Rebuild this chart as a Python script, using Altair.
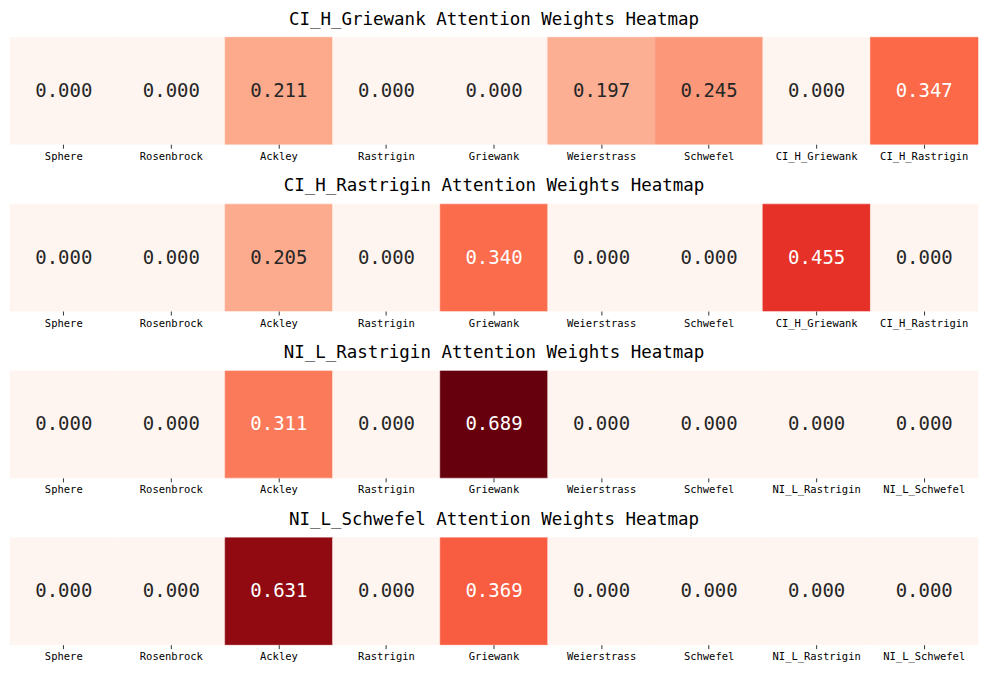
import altair as alt
import pandas as pd

base_cols = ["Sphere", "Rosenbrock", "Ackley", "Rastrigin", "Griewank", "Weierstrass", "Schwefel"]

titles = [
    "CI_H_Griewank Attention Weights Heatmap",
    "CI_H_Rastrigin Attention Weights Heatmap",
    "NI_L_Rastrigin Attention Weights Heatmap",
    "NI_L_Schwefel Attention Weights Heatmap",
]
extra_cols = [
    ["CI_H_Griewank", "CI_H_Rastrigin"],
    ["CI_H_Griewank", "CI_H_Rastrigin"],
    ["NI_L_Rastrigin", "NI_L_Schwefel"],
    ["NI_L_Rastrigin", "NI_L_Schwefel"],
]
values = [
    [0.000, 0.000, 0.211, 0.000, 0.000, 0.197, 0.245, 0.000, 0.347],
    [0.000, 0.000, 0.205, 0.000, 0.340, 0.000, 0.000, 0.455, 0.000],
    [0.000, 0.000, 0.311, 0.000, 0.689, 0.000, 0.000, 0.000, 0.000],
    [0.000, 0.000, 0.631, 0.000, 0.369, 0.000, 0.000, 0.000, 0.000],
]

reds = ["#fff5f0", "#fee0d2", "#fcbba1", "#fc9272", "#fb6a4a",
        "#ef3b2c", "#cb181d", "#a50f15", "#67000d"]
vmax = max(max(v) for v in values)
dom = [vmax * i / 8 for i in range(9)]

FONT = "DejaVu Sans Mono"

panels = []
for t, ex, vals in zip(titles, extra_cols, values):
    cols = base_cols + ex
    df = pd.DataFrame({"name": cols, "value": vals})
    df["label"] = [f"{v:.3f}" for v in vals]
    xenc = alt.X("name:N", sort=cols, title=None,
                 scale=alt.Scale(paddingInner=0, paddingOuter=0),
                 axis=alt.Axis(labelAngle=0, domain=False, ticks=True, tickSize=4,
                               tickColor="#333333", labelFont=FONT, labelFontSize=10.5,
                               labelColor="black", labelPadding=3))
    cscale = alt.Scale(domain=dom, range=reds, interpolate="rgb")
    rect = alt.Chart(df).mark_rect(strokeWidth=0.6).encode(
        x=xenc,
        color=alt.Color("value:Q", legend=None, scale=cscale),
        stroke=alt.Stroke("value:Q", legend=None, scale=cscale),
    )
    text = alt.Chart(df).mark_text(font=FONT, fontSize=19).encode(
        x=alt.X("name:N", sort=cols),
        text="label:N",
        color=alt.condition(alt.datum.value >= 0.3, alt.value("white"), alt.value("#262626")),
    )
    p = alt.layer(rect, text).properties(
        width=969, height=107,
        title=alt.TitleParams(t, font=FONT, fontSize=17.5, fontWeight="normal",
                              color="black", offset=9),
    )
    panels.append(p)

chart = alt.vconcat(*panels, spacing=15).properties(
    padding={"left": 1, "top": 2, "right": 0, "bottom": 6}
).configure_view(stroke=None).resolve_scale(x="independent", color="shared")

chart.save("out.html", embed_options={"renderer": "svg", "actions": False})
